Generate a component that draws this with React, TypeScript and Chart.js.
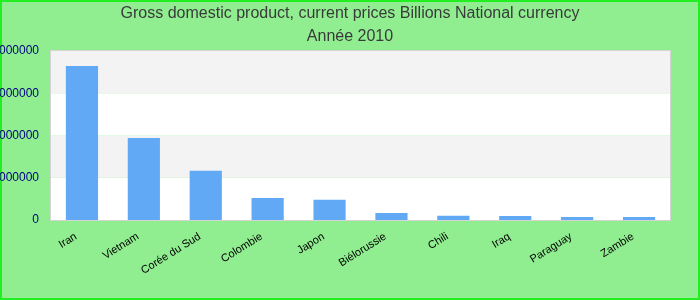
import React, { useEffect, useRef } from "react";
import { Chart, registerables } from "chart.js";

Chart.register(...registerables);

const categories = [
  "Iran",
  "Vietnam",
  "Corée du Sud",
  "Colombie",
  "Japon",
  "Biélorussie",
  "Chili",
  "Iraq",
  "Paraguay",
  "Zambie",
];
const gdpValues = [3645000, 1940000, 1165000, 520000, 478000, 166000, 98000, 95000, 72000, 72000];
const yTicks = [0, 1000000, 2000000, 3000000, 4000000];
const titleText = "Gross domestic product, current prices Billions National currency";
const subtitleText = "Année 2010";

const decorPlugin = {
  id: "decor",
  beforeDraw(chart: any) {
    const { ctx, width, height, chartArea, scales } = chart;
    ctx.save();
    ctx.fillStyle = "#90EE90";
    ctx.fillRect(0, 0, width, height);
    ctx.strokeStyle = "#22ee22";
    ctx.lineWidth = 2;
    ctx.strokeRect(1, 1, width - 2, height - 2);
    const y = scales.y;
    for (let i = 0; i < yTicks.length - 1; i++) {
      const top = y.getPixelForValue(yTicks[i + 1]);
      const bottom = y.getPixelForValue(yTicks[i]);
      ctx.fillStyle = i % 2 === 0 ? "#ffffff" : "#f3f3f3";
      ctx.fillRect(chartArea.left, top, chartArea.right - chartArea.left, bottom - top);
    }
    ctx.strokeStyle = "#d4d4d4";
    ctx.lineWidth = 1;
    ctx.strokeRect(
      chartArea.left - 0.5,
      chartArea.top - 0.5,
      chartArea.right - chartArea.left + 1,
      chartArea.bottom - chartArea.top + 1
    );
    ctx.restore();
  },
};

export default function App() {
  const ref = useRef<HTMLCanvasElement | null>(null);
  useEffect(() => {
    document.body.style.margin = "0";
    if (!ref.current) return;
    const chart = new Chart(ref.current, {
      type: "bar",
      data: {
        labels: categories,
        datasets: [
          {
            data: gdpValues,
            backgroundColor: "#61a9f5",
            borderWidth: 0,
            barPercentage: 0.52,
            categoryPercentage: 1,
          },
        ],
      },
      options: {
        animation: false,
        responsive: false,
        maintainAspectRatio: false,
        layout: { padding: 0 },
        plugins: {
          legend: { display: false },
          tooltip: { enabled: false },
          title: {
            display: true,
            text: titleText,
            color: "#3a3a3a",
            font: { family: "Liberation Sans, Arial", size: 16, weight: "normal" },
            padding: { top: 4.2, bottom: 2 },
          },
          subtitle: {
            display: true,
            text: subtitleText,
            color: "#3a3a3a",
            font: { family: "Liberation Sans, Arial", size: 16, weight: "normal" },
            padding: { top: 2, bottom: 4.4 },
          },
        },
        scales: {
          x: {
            grid: { display: false, drawTicks: false },
            border: { display: false },
            afterFit(scale: any) {
              scale.height = 80;
            },
            ticks: {
              color: "#000000",
              font: { family: "Liberation Sans, Arial", size: 11 },
              minRotation: 32,
              maxRotation: 32,
              autoSkip: false,
              padding: 10,
              labelOffset: -6,
            },
          },
          y: {
            min: 0,
            max: 4000000,
            grid: { display: false, drawTicks: false },
            border: { display: false },
            afterFit(scale: any) {
              scale.width = 51;
            },
            afterBuildTicks(scale: any) {
              scale.ticks = yTicks.map((v) => ({ value: v }));
            },
            ticks: {
              color: "#000080",
              font: { family: "Liberation Sans, Arial", size: 12 },
              padding: 12,
              callback: (v: any) => String(v),
            },
          },
          yRight: {
            position: "right",
            min: 0,
            max: 4000000,
            grid: { display: false, drawTicks: false },
            border: { display: false },
            ticks: { display: false },
            afterFit(scale: any) {
              scale.width = 30;
            },
          },
        },
      },
      plugins: [decorPlugin],
    });
    return () => chart.destroy();
  }, []);
  return <canvas ref={ref} width={700} height={300} style={{ display: "block" }} />;
}
